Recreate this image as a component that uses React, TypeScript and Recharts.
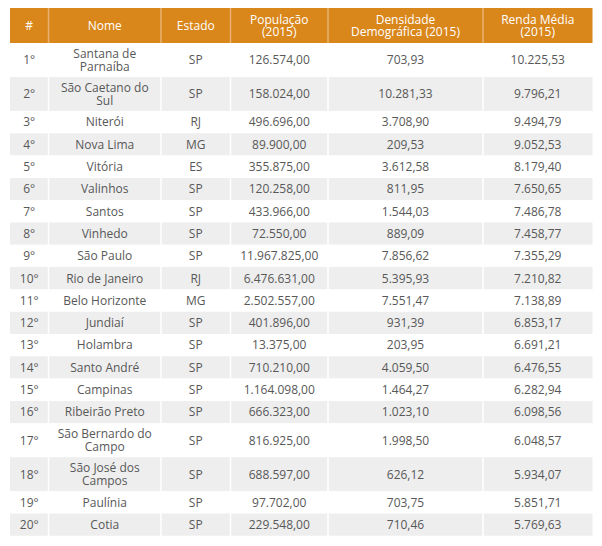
import { Surface, Layer, Rectangle } from 'recharts'

const ranks = ['1°', '2°', '3°', '4°', '5°', '6°', '7°', '8°', '9°', '10°', '11°', '12°', '13°', '14°', '15°', '16°', '17°', '18°', '19°', '20°']

const names = [
  'Santana de Parnaíba',
  'São Caetano do Sul',
  'Niterói',
  'Nova Lima',
  'Vitória',
  'Valinhos',
  'Santos',
  'Vinhedo',
  'São Paulo',
  'Rio de Janeiro',
  'Belo Horizonte',
  'Jundiaí',
  'Holambra',
  'Santo André',
  'Campinas',
  'Ribeirão Preto',
  'São Bernardo do Campo',
  'São José dos Campos',
  'Paulínia',
  'Cotia',
]

const states = ['SP', 'SP', 'RJ', 'MG', 'ES', 'SP', 'SP', 'SP', 'SP', 'RJ', 'MG', 'SP', 'SP', 'SP', 'SP', 'SP', 'SP', 'SP', 'SP', 'SP']

const population = [126574, 158024, 496696, 89900, 355875, 120258, 433966, 72550, 11967825, 6476631, 2502557, 401896, 13375, 710210, 1164098, 666323, 816925, 688597, 97702, 229548]

const density = [703.93, 10281.33, 3708.9, 209.53, 3612.58, 811.95, 1544.03, 889.09, 7856.62, 5395.93, 7551.47, 931.39, 203.95, 4059.5, 1464.27, 1023.1, 1998.5, 626.12, 703.75, 710.46]

const income = [10225.53, 9796.21, 9494.79, 9052.53, 8179.4, 7650.65, 7486.78, 7458.77, 7355.29, 7210.82, 7138.89, 6853.17, 6691.21, 6476.55, 6282.94, 6098.56, 6048.57, 5934.07, 5851.71, 5769.63]

const headers = [['#'], ['Nome'], ['Estado'], ['População', '(2015)'], ['Densidade', 'Demográfica (2015)'], ['Renda Média', '(2015)']]

const colEdges = [10, 48.5, 161, 230.5, 328, 483, 592.5]
const top = 8
const headerH = 35
const singleH = 22.3
const doubleH = 34
const font = '"Open Sans", sans-serif'
const orange = '#D9861B'
const textColor = '#585858'

const fmt = (v: number) =>
  v.toLocaleString('pt-BR', { minimumFractionDigits: 2, maximumFractionDigits: 2 })

// greedy wrap, max 15 chars per line
function wrap(s: string) {
  const lines: string[] = []
  let cur = ''
  s.split(' ').forEach((w) => {
    const next = cur ? cur + ' ' + w : w
    if (next.length > 15 && cur) {
      lines.push(cur)
      cur = w
    } else {
      cur = next
    }
  })
  lines.push(cur)
  return lines
}

// one <text> per cell, lines as tspans
function Cell({ x0, x1, y, h, lines, color, size, lineH }: any) {
  const cx = (x0 + x1) / 2
  const cy = y + h / 2
  const base = cy - ((lines.length - 1) * lineH) / 2 + size * 0.36
  return (
    <text x={cx} y={base} textAnchor="middle" fontSize={size} fontFamily={font} fill={color}>
      {lines.map((l: string, i: number) => (
        <tspan key={i} x={cx} dy={i === 0 ? 0 : lineH}>
          {l}
        </tspan>
      ))}
    </text>
  )
}

export default function App() {
  let y = top + headerH
  const rows = ranks.map((r, i) => {
    const nameLines = wrap(names[i])
    const h = nameLines.length > 1 ? doubleH : singleH
    const row = {
      y,
      h,
      cells: [[r], nameLines, [states[i]], [fmt(population[i])], [fmt(density[i])], [fmt(income[i])]],
    }
    y += h
    return row
  })

  return (
    <Surface width={602} height={546} viewBox={{ x: 0, y: 0, width: 602, height: 546 }} style={{ display: 'block', margin: '-8px' }}>
      <Rectangle x={0} y={0} width={602} height={546} fill="#ffffff" />
      <Layer>
        {headers.map((hd, c) => (
          <g key={c}>
            <Rectangle x={colEdges[c]} y={top} width={colEdges[c + 1] - colEdges[c]} height={headerH} fill={orange} />
            <Cell x0={colEdges[c]} x1={colEdges[c + 1]} y={top} h={headerH} lines={hd} color="#ffffff" size={12} lineH={12.5} />
          </g>
        ))}
        {colEdges.slice(1, -1).map((x) => (
          <Rectangle key={x} x={x - 0.75} y={top} width={1.5} height={headerH} fill="#E9B273" />
        ))}
      </Layer>
      <Layer>
        {rows.map((row, i) => (
          <g key={i}>
            {row.cells.map((lines, c) => (
              <Rectangle
                key={c}
                x={colEdges[c] + (c > 0 ? 0.75 : 0)}
                y={row.y}
                width={colEdges[c + 1] - colEdges[c] - (c > 0 ? 0.75 : 0) - (c < 5 ? 0.75 : 0)}
                height={row.h}
                fill={i % 2 === 1 ? '#EEEEEE' : '#ffffff'}
              />
            ))}
            {row.cells.map((lines, c) => (
              <Cell key={'t' + c} x0={colEdges[c]} x1={colEdges[c + 1]} y={row.y} h={row.h} lines={lines} color={textColor} size={12} lineH={13} />
            ))}
          </g>
        ))}
      </Layer>
    </Surface>
  )
}
